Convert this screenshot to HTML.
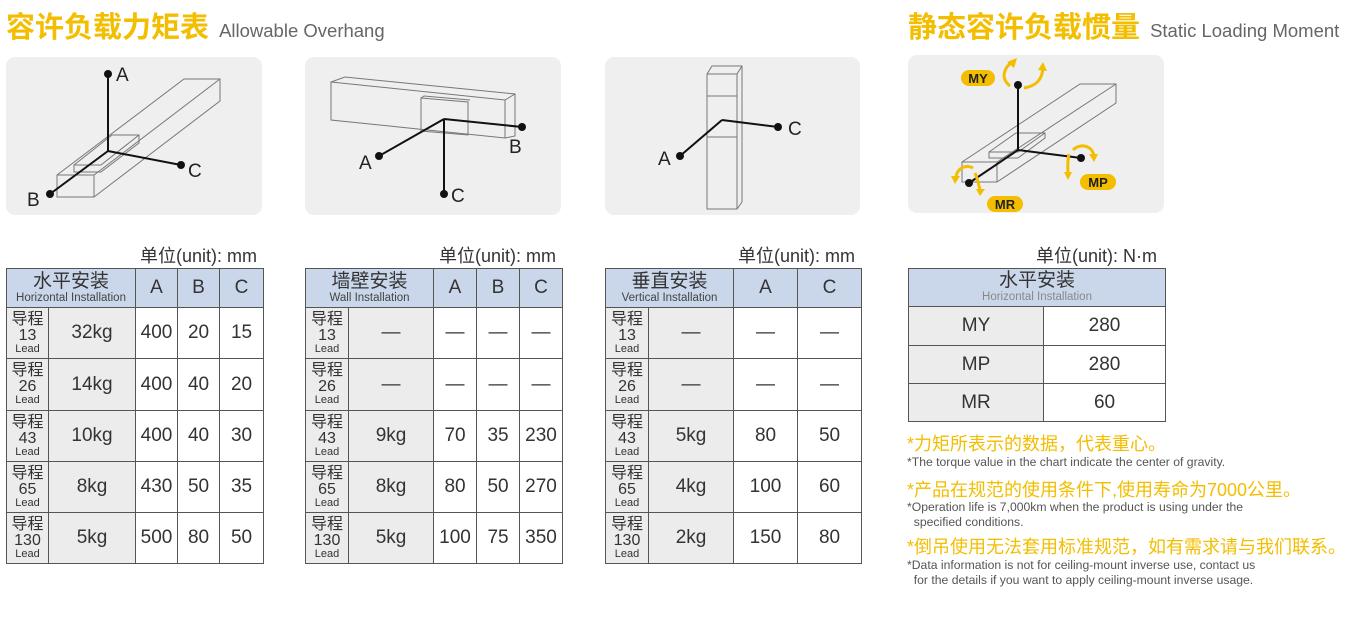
<!DOCTYPE html>
<html><head><meta charset="utf-8">
<style>
*{margin:0;padding:0;box-sizing:border-box}
body{width:1370px;height:618px;background:#fff;position:relative;overflow:hidden;font-family:"Liberation Sans","Noto Sans CJK SC",sans-serif;color:#333}
.abs{position:absolute}
.title{font-size:29px;color:#f3bd00;font-weight:bold;white-space:nowrap}
.title span{font-size:18.5px;color:#666;font-weight:normal;margin-left:2px}
.box{position:absolute;background:#efefef;border-radius:9px}
table{position:absolute;border-collapse:collapse;table-layout:fixed}
td{border:1.5px solid #555;text-align:center;vertical-align:middle;font-size:19px;color:#333;padding:0}
td.h{background:#cad7ea}
td.g{background:#ececec}
.hc{font-size:19px;line-height:20px}
.he{font-size:11.5px;line-height:13px;color:#444}
.ld{font-size:16px;line-height:16px}
.ld small{font-size:11px;display:block;line-height:11px}
.unit{position:absolute;font-size:18px;color:#333;white-space:nowrap}
.yn{position:absolute;font-size:18px;color:#f3bd00;white-space:nowrap}
.gn{position:absolute;font-size:12.2px;color:#555;line-height:15px;white-space:nowrap}
</style></head><body>
<div class="abs title" style="left:6px;top:4px">容许负载力矩表 <span>Allowable Overhang</span></div>
<div class="abs title" style="left:908px;top:4px">静态容许负载惯量 <span>Static Loading Moment</span></div>

<div class="box" style="left:6px;top:57px;width:256px;height:158px"></div>
<div class="box" style="left:305px;top:57px;width:256px;height:158px"></div>
<div class="box" style="left:605px;top:57px;width:255px;height:158px"></div>
<div class="box" style="left:908px;top:55px;width:256px;height:158px"></div>

<svg class="abs" style="left:0;top:0" width="1370" height="230" viewBox="0 0 1370 230">
<g fill="none" stroke="#777" stroke-width="1">
<path d="M57 175 L184 79 L220 79 L220 101 L94 197 L57 197 Z M57 175 L94 175 L220 79 M94 175 L94 197"/>
<path d="M74 165 L112 135 L139 135 L139 143 L101 172 L74 172 Z M74 165 L101 165 L139 135"/>
<path d="M331 82 L345 77 L515 94 L515 136 L505 138 L331 120 Z M331 82 L505 100 L515 94 M505 100 L505 138"/>
<path d="M421 98 L468 102 L468 135 L421 131 Z M421 98 L424 96 L470 100"/>
<path d="M707 74 L712 66 L742 66 L742 202 L737 209 L707 209 Z M707 74 L737 74 L742 66 M737 74 L737 209"/>
<path d="M707 96 L737 96 M707 137 L737 137 L737 96"/>
<path d="M962 162 L1080 84 L1116 84 L1116 103 L997 182 L962 182 Z M962 162 L997 162 L1116 84 M997 162 L997 182"/>
<path d="M989 152 L1016 133 L1045 133 L1045 138 L1018 158 L989 158 Z M989 152 L1018 152 L1045 133"/>
</g>
<g stroke="#111" stroke-width="2" fill="none">
<path d="M108 74 L108 151 L181 165 M108 151 L50 194"/>
<path d="M444 119 L522 127 M444 119 L379 156 M444 119 L444 194"/>
<path d="M722 120 L778 127 M722 120 L680 156"/>
<path d="M1018 85 L1018 150 L1081 158 M1018 150 L969 183"/>
</g>
<g fill="#111">
<circle cx="108" cy="74" r="4"/><circle cx="181" cy="165" r="4"/><circle cx="50" cy="194" r="4"/>
<circle cx="522" cy="127" r="4"/><circle cx="379" cy="156" r="4"/><circle cx="444" cy="194" r="4"/>
<circle cx="778" cy="127" r="4"/><circle cx="680" cy="156" r="4"/>
<circle cx="1018" cy="85" r="4"/><circle cx="1081" cy="158" r="4"/><circle cx="969" cy="183" r="4"/>
</g>
<g font-family="Liberation Sans" font-size="19" fill="#222">
<text x="116" y="81">A</text><text x="188" y="177">C</text><text x="27" y="206">B</text>
<text x="509" y="153">B</text><text x="359" y="169">A</text><text x="451" y="202">C</text>
<text x="788" y="135">C</text><text x="658" y="165">A</text>
</g>
<g stroke="#f3bd00" stroke-width="3" fill="none">
<path d="M1010 86 C1000 78 1004 68 1012 62"/><path d="M1024 88 C1036 86 1042 80 1043 68"/>
<path d="M1073 150 C1080 143 1092 145 1094 156"/><path d="M1069 154 C1067 162 1068 170 1068 174"/>
<path d="M973 168 C966 164 958 168 956 176"/><path d="M975 173 C978 180 979 186 980 190"/>
</g>
<g fill="#f3bd00">
<polygon points="1007,62 1017,58 1014,68"/><polygon points="1038,70 1043,62 1047,71"/>
<polygon points="1089,154 1098,154 1094,162"/><polygon points="1064,172 1072,172 1068,180"/>
<polygon points="951,176 960,176 955,184"/><polygon points="976,189 985,189 980,196"/>
<rect x="961" y="70" width="34" height="16" rx="8"/><rect x="1080" y="174" width="36" height="16" rx="8"/><rect x="987" y="196" width="36" height="16" rx="8"/>
</g>
<g font-family="Liberation Sans" font-weight="bold" font-size="13" fill="#222" text-anchor="middle">
<text x="978" y="83">MY</text><text x="1098" y="187">MP</text><text x="1005" y="209">MR</text>
</g>
</svg>

<div class="unit" style="left:140px;top:242px">单位(unit): mm</div>
<div class="unit" style="left:439px;top:242px">单位(unit): mm</div>
<div class="unit" style="left:738px;top:242px">单位(unit): mm</div>
<div class="unit" style="left:1036px;top:242px">单位(unit): N·m</div>

<table style="left:6px;top:268px;width:257px">
<colgroup><col style="width:42px"><col style="width:87px"><col style="width:42px"><col style="width:42px"><col style="width:44px"></colgroup>
<tr style="height:39px"><td class="h" colspan="2"><div class="hc">水平安装</div><div class="he">Horizontal Installation</div></td><td class="h">A</td><td class="h">B</td><td class="h">C</td></tr>
<tr style="height:51px"><td class="g ld">导程<br>13<small>Lead</small></td><td class="g">32kg</td><td>400</td><td>20</td><td>15</td></tr>
<tr style="height:52px"><td class="g ld">导程<br>26<small>Lead</small></td><td class="g">14kg</td><td>400</td><td>40</td><td>20</td></tr>
<tr style="height:51px"><td class="g ld">导程<br>43<small>Lead</small></td><td class="g">10kg</td><td>400</td><td>40</td><td>30</td></tr>
<tr style="height:51px"><td class="g ld">导程<br>65<small>Lead</small></td><td class="g">8kg</td><td>430</td><td>50</td><td>35</td></tr>
<tr style="height:51px"><td class="g ld">导程<br>130<small>Lead</small></td><td class="g">5kg</td><td>500</td><td>80</td><td>50</td></tr>
</table>

<table style="left:305px;top:268px;width:257px">
<colgroup><col style="width:43px"><col style="width:85px"><col style="width:43px"><col style="width:43px"><col style="width:43px"></colgroup>
<tr style="height:39px"><td class="h" colspan="2"><div class="hc">墙壁安装</div><div class="he">Wall Installation</div></td><td class="h">A</td><td class="h">B</td><td class="h">C</td></tr>
<tr style="height:51px"><td class="g ld">导程<br>13<small>Lead</small></td><td class="g">—</td><td>—</td><td>—</td><td>—</td></tr>
<tr style="height:52px"><td class="g ld">导程<br>26<small>Lead</small></td><td class="g">—</td><td>—</td><td>—</td><td>—</td></tr>
<tr style="height:51px"><td class="g ld">导程<br>43<small>Lead</small></td><td class="g">9kg</td><td>70</td><td>35</td><td>230</td></tr>
<tr style="height:51px"><td class="g ld">导程<br>65<small>Lead</small></td><td class="g">8kg</td><td>80</td><td>50</td><td>270</td></tr>
<tr style="height:51px"><td class="g ld">导程<br>130<small>Lead</small></td><td class="g">5kg</td><td>100</td><td>75</td><td>350</td></tr>
</table>

<table style="left:605px;top:268px;width:256px">
<colgroup><col style="width:43px"><col style="width:85px"><col style="width:64px"><col style="width:64px"></colgroup>
<tr style="height:39px"><td class="h" colspan="2"><div class="hc">垂直安装</div><div class="he">Vertical Installation</div></td><td class="h">A</td><td class="h">C</td></tr>
<tr style="height:51px"><td class="g ld">导程<br>13<small>Lead</small></td><td class="g">—</td><td>—</td><td>—</td></tr>
<tr style="height:52px"><td class="g ld">导程<br>26<small>Lead</small></td><td class="g">—</td><td>—</td><td>—</td></tr>
<tr style="height:51px"><td class="g ld">导程<br>43<small>Lead</small></td><td class="g">5kg</td><td>80</td><td>50</td></tr>
<tr style="height:51px"><td class="g ld">导程<br>65<small>Lead</small></td><td class="g">4kg</td><td>100</td><td>60</td></tr>
<tr style="height:51px"><td class="g ld">导程<br>130<small>Lead</small></td><td class="g">2kg</td><td>150</td><td>80</td></tr>
</table>

<table style="left:908px;top:268px;width:257px">
<colgroup><col style="width:135px"><col style="width:122px"></colgroup>
<tr style="height:38px"><td class="h" colspan="2"><div class="hc">水平安装</div><div class="he" style="color:#888">Horizontal Installation</div></td></tr>
<tr style="height:39px"><td class="g">MY</td><td>280</td></tr>
<tr style="height:38px"><td class="g">MP</td><td>280</td></tr>
<tr style="height:38px"><td class="g">MR</td><td>60</td></tr>
</table>

<div class="yn" style="left:907px;top:430px">*力矩所表示的数据，代表重心。</div>
<div class="gn" style="left:907px;top:455px">*The torque value in the chart indicate the center of gravity.</div>
<div class="yn" style="left:907px;top:476px">*产品在规范的使用条件下,使用寿命为7000公里。</div>
<div class="gn" style="left:907px;top:500px">*Operation life is 7,000km when the product is using under the<br>&nbsp;&nbsp;specified conditions.</div>
<div class="yn" style="left:907px;top:533px">*倒吊使用无法套用标准规范，如有需求请与我们联系。</div>
<div class="gn" style="left:907px;top:558px">*Data information is not for ceiling-mount inverse use, contact us<br>&nbsp;&nbsp;for the details if you want to apply ceiling-mount inverse usage.</div>
</body></html>
